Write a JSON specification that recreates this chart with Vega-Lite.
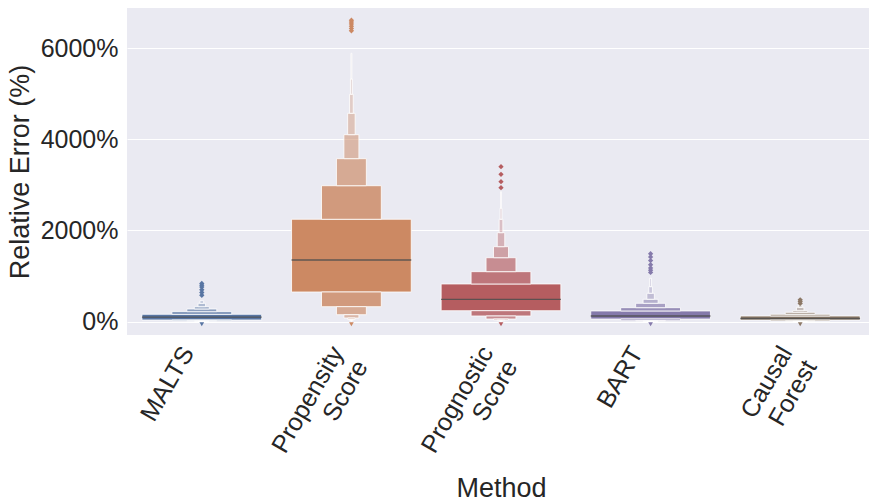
{
  "$schema": "https://vega.github.io/schema/vega-lite/v6.json",
  "width": 742,
  "height": 327,
  "autosize": {"type": "none"},
  "padding": {"left": 127, "top": 8, "right": 0, "bottom": 162},
  "background": "white",
  "config": {
    "view": {"fill": "#EAEAF2", "stroke": null},
    "font": "Liberation Sans",
    "axis": {
      "domain": false,
      "ticks": false,
      "labelFontSize": 25,
      "labelColor": "#262626",
      "titleFontSize": 27,
      "titleFontWeight": "normal",
      "titleColor": "#262626",
      "gridColor": "white",
      "gridWidth": 1
    }
  },
  "datasets": {
    "boxes": [
      {"method": "MALTS", "level": 1, "lo": 37, "hi": 162},
      {"method": "MALTS", "level": 2, "lo": 20, "hi": 37},
      {"method": "MALTS", "level": 2, "lo": 162, "hi": 219},
      {"method": "MALTS", "level": 3, "lo": 12, "hi": 20},
      {"method": "MALTS", "level": 3, "lo": 219, "hi": 278},
      {"method": "MALTS", "level": 4, "lo": 8, "hi": 12},
      {"method": "MALTS", "level": 4, "lo": 278, "hi": 329},
      {"method": "MALTS", "level": 5, "lo": 5, "hi": 8},
      {"method": "MALTS", "level": 5, "lo": 329, "hi": 403},
      {"method": "MALTS", "level": 6, "lo": 3, "hi": 5},
      {"method": "MALTS", "level": 6, "lo": 403, "hi": 460},
      {"method": "Propensity Score", "level": 1, "lo": 651, "hi": 2246},
      {"method": "Propensity Score", "level": 2, "lo": 329, "hi": 651},
      {"method": "Propensity Score", "level": 2, "lo": 2246, "hi": 2982},
      {"method": "Propensity Score", "level": 3, "lo": 153, "hi": 329},
      {"method": "Propensity Score", "level": 3, "lo": 2982, "hi": 3575},
      {"method": "Propensity Score", "level": 4, "lo": 81, "hi": 153},
      {"method": "Propensity Score", "level": 4, "lo": 3575, "hi": 4101},
      {"method": "Propensity Score", "level": 5, "lo": 48, "hi": 81},
      {"method": "Propensity Score", "level": 5, "lo": 4101, "hi": 4570},
      {"method": "Propensity Score", "level": 6, "lo": 26, "hi": 48},
      {"method": "Propensity Score", "level": 6, "lo": 4570, "hi": 4987},
      {"method": "Propensity Score", "level": 7, "lo": 15, "hi": 26},
      {"method": "Propensity Score", "level": 7, "lo": 4987, "hi": 5322},
      {"method": "Propensity Score", "level": 8, "lo": 8, "hi": 15},
      {"method": "Propensity Score", "level": 8, "lo": 5322, "hi": 5886},
      {"method": "Prognostic Score", "level": 1, "lo": 241, "hi": 827},
      {"method": "Prognostic Score", "level": 2, "lo": 125, "hi": 241},
      {"method": "Prognostic Score", "level": 2, "lo": 827, "hi": 1097},
      {"method": "Prognostic Score", "level": 3, "lo": 59, "hi": 125},
      {"method": "Prognostic Score", "level": 3, "lo": 1097, "hi": 1403},
      {"method": "Prognostic Score", "level": 4, "lo": 35, "hi": 59},
      {"method": "Prognostic Score", "level": 4, "lo": 1403, "hi": 1645},
      {"method": "Prognostic Score", "level": 5, "lo": 20, "hi": 35},
      {"method": "Prognostic Score", "level": 5, "lo": 1645, "hi": 1952},
      {"method": "Prognostic Score", "level": 6, "lo": 12, "hi": 20},
      {"method": "Prognostic Score", "level": 6, "lo": 1952, "hi": 2246},
      {"method": "Prognostic Score", "level": 7, "lo": 7, "hi": 12},
      {"method": "Prognostic Score", "level": 7, "lo": 2246, "hi": 2487},
      {"method": "Prognostic Score", "level": 8, "lo": 4, "hi": 7},
      {"method": "Prognostic Score", "level": 8, "lo": 2487, "hi": 2851},
      {"method": "BART", "level": 1, "lo": 59, "hi": 235},
      {"method": "BART", "level": 2, "lo": 22, "hi": 59},
      {"method": "BART", "level": 2, "lo": 235, "hi": 307},
      {"method": "BART", "level": 3, "lo": 12, "hi": 22},
      {"method": "BART", "level": 3, "lo": 307, "hi": 403},
      {"method": "BART", "level": 4, "lo": 7, "hi": 12},
      {"method": "BART", "level": 4, "lo": 403, "hi": 491},
      {"method": "BART", "level": 5, "lo": 4, "hi": 7},
      {"method": "BART", "level": 5, "lo": 491, "hi": 623},
      {"method": "BART", "level": 6, "lo": 2, "hi": 4},
      {"method": "BART", "level": 6, "lo": 623, "hi": 768},
      {"method": "BART", "level": 7, "lo": 1, "hi": 2},
      {"method": "BART", "level": 7, "lo": 768, "hi": 952},
      {"method": "Causal Forest", "level": 1, "lo": 37, "hi": 125},
      {"method": "Causal Forest", "level": 2, "lo": 15, "hi": 37},
      {"method": "Causal Forest", "level": 2, "lo": 125, "hi": 162},
      {"method": "Causal Forest", "level": 3, "lo": 8, "hi": 15},
      {"method": "Causal Forest", "level": 3, "lo": 162, "hi": 206},
      {"method": "Causal Forest", "level": 4, "lo": 5, "hi": 8},
      {"method": "Causal Forest", "level": 4, "lo": 206, "hi": 241},
      {"method": "Causal Forest", "level": 5, "lo": 3, "hi": 5},
      {"method": "Causal Forest", "level": 5, "lo": 241, "hi": 315},
      {"method": "Causal Forest", "level": 6, "lo": 2, "hi": 3},
      {"method": "Causal Forest", "level": 6, "lo": 315, "hi": 366}
    ],
    "medians": [
      {"method": "MALTS", "median": 100},
      {"method": "Propensity Score", "median": 1353},
      {"method": "Prognostic Score", "median": 491},
      {"method": "BART", "median": 125},
      {"method": "Causal Forest", "median": 70}
    ],
    "outliers": [
      {"method": "MALTS", "value": 580},
      {"method": "MALTS", "value": 640},
      {"method": "MALTS", "value": 700},
      {"method": "MALTS", "value": 760},
      {"method": "MALTS", "value": 800},
      {"method": "MALTS", "value": 840},
      {"method": "Propensity Score", "value": 6380},
      {"method": "Propensity Score", "value": 6430},
      {"method": "Propensity Score", "value": 6480},
      {"method": "Propensity Score", "value": 6530},
      {"method": "Propensity Score", "value": 6570},
      {"method": "Propensity Score", "value": 6610},
      {"method": "Prognostic Score", "value": 2939},
      {"method": "Prognostic Score", "value": 3070},
      {"method": "Prognostic Score", "value": 3232},
      {"method": "Prognostic Score", "value": 3399},
      {"method": "BART", "value": 1080},
      {"method": "BART", "value": 1130},
      {"method": "BART", "value": 1180},
      {"method": "BART", "value": 1250},
      {"method": "BART", "value": 1340},
      {"method": "BART", "value": 1420},
      {"method": "BART", "value": 1490},
      {"method": "Causal Forest", "value": 400},
      {"method": "Causal Forest", "value": 440},
      {"method": "Causal Forest", "value": 480}
    ],
    "lows": [
      {"method": "MALTS", "value": -55},
      {"method": "Propensity Score", "value": -55},
      {"method": "Prognostic Score", "value": -55},
      {"method": "BART", "value": -55},
      {"method": "Causal Forest", "value": -55}
    ]
  },
  "encoding": {
    "x": {
      "field": "method",
      "type": "nominal",
      "sort": ["MALTS", "Propensity Score", "Prognostic Score", "BART", "Causal Forest"],
      "scale": {"paddingInner": 0, "paddingOuter": 0, "range": [0, 748]},
      "title": "Method",
      "axis": {
        "labelAngle": -60,
        "labelAlign": "right",
        "labelBaseline": "middle",
        "labelPadding": 13,
        "labelOffset": -14,
        "labelLineHeight": 28,
        "labelExpr": "split(datum.label, ' ')",
        "titlePadding": 5,
        "grid": false
      }
    },
    "color": {
      "field": "method",
      "type": "nominal",
      "scale": {
        "domain": ["MALTS", "Propensity Score", "Prognostic Score", "BART", "Causal Forest"],
        "range": ["#5875A3", "#CC8963", "#B55D60", "#857AAB", "#8C7866"]
      },
      "legend": null
    }
  },
  "layer": [
    {
      "data": {"name": "boxes"},
      "mark": {"type": "bar", "stroke": "white", "strokeWidth": 0.8},
      "encoding": {
        "y": {
          "field": "lo",
          "type": "quantitative",
          "scale": {"domain": [-292, 6879], "nice": false, "zero": false},
          "title": "Relative Error (%)",
          "axis": {
            "values": [0, 2000, 4000, 6000],
            "labelExpr": "format(datum.value, 'd') + '%'",
            "labelPadding": 9,
            "titlePadding": 6
          }
        },
        "y2": {"field": "hi"},
        "size": {
          "field": "level",
          "type": "quantitative",
          "scale": {
            "type": "threshold",
            "domain": [1.5, 2.5, 3.5, 4.5, 5.5, 6.5, 7.5],
            "range": [119.7, 59.8, 29.9, 15, 7.5, 3.7, 1.9, 0.9]
          },
          "legend": null
        },
        "fillOpacity": {
          "field": "level",
          "type": "quantitative",
          "scale": {
            "type": "threshold",
            "domain": [1.5, 2.5, 3.5, 4.5, 5.5, 6.5, 7.5],
            "range": [1, 0.82, 0.66, 0.52, 0.4, 0.3, 0.2, 0.12]
          },
          "legend": null
        }
      }
    },
    {
      "data": {"name": "medians"},
      "mark": {"type": "tick", "size": 119.7, "thickness": 1.3, "color": "#4d4d4d", "opacity": 0.85},
      "encoding": {
        "y": {"field": "median", "type": "quantitative"},
        "color": {"value": "#4d4d4d"}
      }
    },
    {
      "data": {"name": "outliers"},
      "mark": {"type": "point", "shape": "diamond", "filled": true, "size": 28, "opacity": 1},
      "encoding": {
        "y": {"field": "value", "type": "quantitative"}
      }
    },
    {
      "data": {"name": "lows"},
      "mark": {"type": "point", "shape": "triangle-down", "filled": true, "size": 22, "opacity": 1},
      "encoding": {
        "y": {"field": "value", "type": "quantitative"}
      }
    }
  ]
}
